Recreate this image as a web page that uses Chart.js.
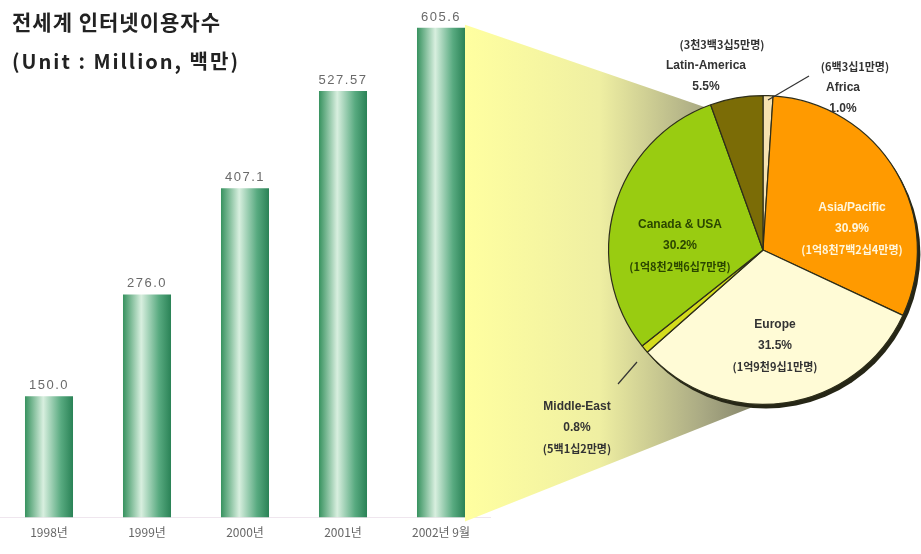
<!DOCTYPE html>
<html>
<head>
<meta charset="utf-8">
<script src="https://cdn.jsdelivr.net/npm/chart.js@4.4.1/dist/chart.umd.min.js"></script>
<style>
  body { margin: 0; background: #fff; }
  #wrap { position: relative; width: 921px; height: 554px; overflow: hidden; }
  #wrap canvas { position: absolute; left: 0; top: 0; }
  .title { position: absolute; left: 12px; font-family: 'Noto Sans CJK KR', sans-serif; font-weight: 700; color: #222; white-space: nowrap; }
</style>
</head>
<body>
<div id="wrap">
  <canvas id="chart_users" width="921" height="554"></canvas>
  <canvas id="chart_regions" width="921" height="554"></canvas>
  <div class="title" style="top:8px; font-size:21px; line-height:26px; letter-spacing:1px;">전세계 인터넷이용자수</div>
  <div class="title" style="top:48px; font-size:20px; line-height:26px; letter-spacing:2px;">(Unit : Million, 백만)</div>
</div>

<script>
// internet users worldwide, millions
const years = ["1998년", "1999년", "2000년", "2001년", "2002년 9월"];
const users = [150.0, 276.0, 407.1, 527.57, 605.6];

// regional breakdown for 2002, millions (clockwise from top)
const regions = ["Africa", "Asia/Pacific", "Europe", "Middle-East", "Canada & USA", "Latin-America"];
const regionUsers = [6.31, 187.24, 190.91, 5.12, 182.67, 33.35];
const regionColors = ["#f6e2b0", "#ff9a00", "#fffbd6", "#d4dc1c", "#99cc11", "#7b6c06"];

function fmtValue(v) {
  return Math.abs(v * 10 - Math.round(v * 10)) < 1e-9 ? v.toFixed(1) : String(v);
}

// 18724 (만) -> 1억8천7백2십4만명
function koreanCount(millions) {
  let n = Math.round(millions * 100);
  let s = "";
  const eok = Math.floor(n / 10000);
  if (eok) s += eok + "억";
  n = n % 10000;
  [[1000, "천"], [100, "백"], [10, "십"]].forEach(function (u) {
    const d = Math.floor(n / u[0]);
    if (d) s += d + u[1];
    n = n % u[0];
  });
  if (n) s += n;
  return "(" + s + "만명)";
}

const barChart = new Chart(document.getElementById("chart_users"), {
  type: "bar",
  data: {
    labels: years,
    datasets: [{
      data: users,
      backgroundColor: function (ctx) {
        const chart = ctx.chart;
        const xs = chart.scales.x;
        if (!xs || ctx.dataIndex === undefined) return "#3b9a6c";
        const cx = xs.getPixelForValue(ctx.dataIndex);
        const w = (chart.chartArea.right - chart.chartArea.left) / years.length * 0.49;
        const g = chart.ctx.createLinearGradient(cx - w / 2, 0, cx + w / 2, 0);
        g.addColorStop(0, "#37925f");
        g.addColorStop(0.38, "#d8efdf");
        g.addColorStop(0.75, "#58aa80");
        g.addColorStop(1, "#2a8256");
        return g;
      },
      barPercentage: 0.49,
      categoryPercentage: 1,
    }],
  },
  options: {
    responsive: false,
    animation: false,
    layout: { padding: { left: -3, right: 431, top: 0, bottom: 6 } },
    plugins: { legend: false, tooltip: { enabled: false } },
    scales: {
      y: { display: false, min: 0, max: 640 },
      x: {
        grid: { display: false, drawTicks: false },
        border: { color: "#efe6ee" },
        ticks: { color: "#666", padding: 8, font: { size: 12, family: "'Noto Sans CJK KR', sans-serif" } },
      },
    },
  },
  plugins: [{
    id: "valueLabels",
    afterDatasetsDraw: function (chart) {
      const c = chart.ctx;
      c.save();
      c.font = "13px 'Liberation Sans', sans-serif";
      c.letterSpacing = "1.5px";
      c.fillStyle = "#6a6a6a";
      c.textAlign = "center";
      c.textBaseline = "bottom";
      chart.getDatasetMeta(0).data.forEach(function (bar, i) {
        c.fillText(fmtValue(users[i]), bar.x, bar.y - 4);
      });
      c.restore();
    },
  }],
});

const total = regionUsers.reduce(function (a, b) { return a + b; }, 0);

// text block for each slice: offset from pie centre, colour, optional leader line
const labelStyle = {
  "Africa":        { dx: 92,  dy: -183, color: "#333", countFirst: true, lead: [[5, -150], [46, -174]] },
  "Asia/Pacific":  { dx: 89,  dy: -42,  color: "#fff6dc" },
  "Europe":        { dx: 12,  dy: 75,   color: "#333" },
  "Middle-East":   { dx: -186, dy: 157, color: "#333", lead: [[-126, 112], [-145, 134]] },
  "Canada & USA":  { dx: -83, dy: -25,  color: "#2b4600" },
  "Latin-America": { dx: -41, dy: -205, color: "#333", countFirst: true },
};

new Chart(document.getElementById("chart_regions"), {
  type: "pie",
  data: {
    labels: regions,
    datasets: [{
      data: regionUsers,
      backgroundColor: regionColors,
      borderColor: "#2e2e1a",
      borderWidth: 1.2,
    }],
  },
  options: {
    responsive: false,
    animation: false,
    layout: { padding: { left: 608, right: 3, top: 95, bottom: 149 } },
    plugins: { legend: false, tooltip: { enabled: false } },
  },
  plugins: [{
    id: "zoomBand",
    beforeDatasetsDraw: function (chart) {
      const c = chart.ctx;
      const arc = chart.getDatasetMeta(0).data[0];
      const cx = arc.x, cy = arc.y, r = arc.outerRadius;
      const last = barChart.getDatasetMeta(0).data[users.length - 1];
      const left = last.x + last.width / 2;
      const base = barChart.scales.y.getPixelForValue(0);
      c.save();
      const g = c.createLinearGradient(left, 0, cx, 0);
      g.addColorStop(0, "#ffffa0");
      g.addColorStop(0.45, "#efefa2");
      g.addColorStop(0.8, "#a9a983");
      g.addColorStop(1, "#7e7e66");
      c.fillStyle = g;
      c.beginPath();
      c.moveTo(left, last.y - 3);
      c.lineTo(cx - 0.36 * r, cy - 0.92 * r);
      c.lineTo(cx, cy);
      c.lineTo(cx + 0.1 * r, cy + 0.95 * r);
      c.lineTo(left, base + 4);
      c.closePath();
      c.fill();
      // shadow under the pie
      c.fillStyle = "#262616";
      c.beginPath();
      c.arc(cx + 3, cy + 4, r, 0, Math.PI * 2);
      c.fill();
      c.restore();
    },
    afterDatasetsDraw: function (chart) {
      const c = chart.ctx;
      const arc = chart.getDatasetMeta(0).data[0];
      const cx = arc.x, cy = arc.y;
      c.save();
      c.textAlign = "center";
      c.textBaseline = "middle";
      regions.forEach(function (name, i) {
        const st = labelStyle[name];
        const pct = (regionUsers[i] / total * 100).toFixed(1) + "%";
        const count = koreanCount(regionUsers[i]);
        const lines = st.countFirst ? [count, name, pct] : [name, pct, count];
        const x = cx + st.dx, y = cy + st.dy;
        c.fillStyle = st.color;
        lines.forEach(function (t, k) {
          const isCount = t === count;
          c.font = isCount ? "bold 11px 'Noto Sans CJK KR', sans-serif" : "bold 12px 'Liberation Sans', sans-serif";
          let ox = 0;
          if (st.countFirst && !isCount) ox = name === "Africa" ? -12 : -16;
          c.fillText(t, x + ox, y + k * 21);
        });
        if (st.lead) {
          c.strokeStyle = "#333";
          c.lineWidth = 1.2;
          c.beginPath();
          c.moveTo(cx + st.lead[0][0], cy + st.lead[0][1]);
          c.lineTo(cx + st.lead[1][0], cy + st.lead[1][1]);
          c.stroke();
        }
      });
      c.restore();
    },
  }],
});
</script>
</body>
</html>
